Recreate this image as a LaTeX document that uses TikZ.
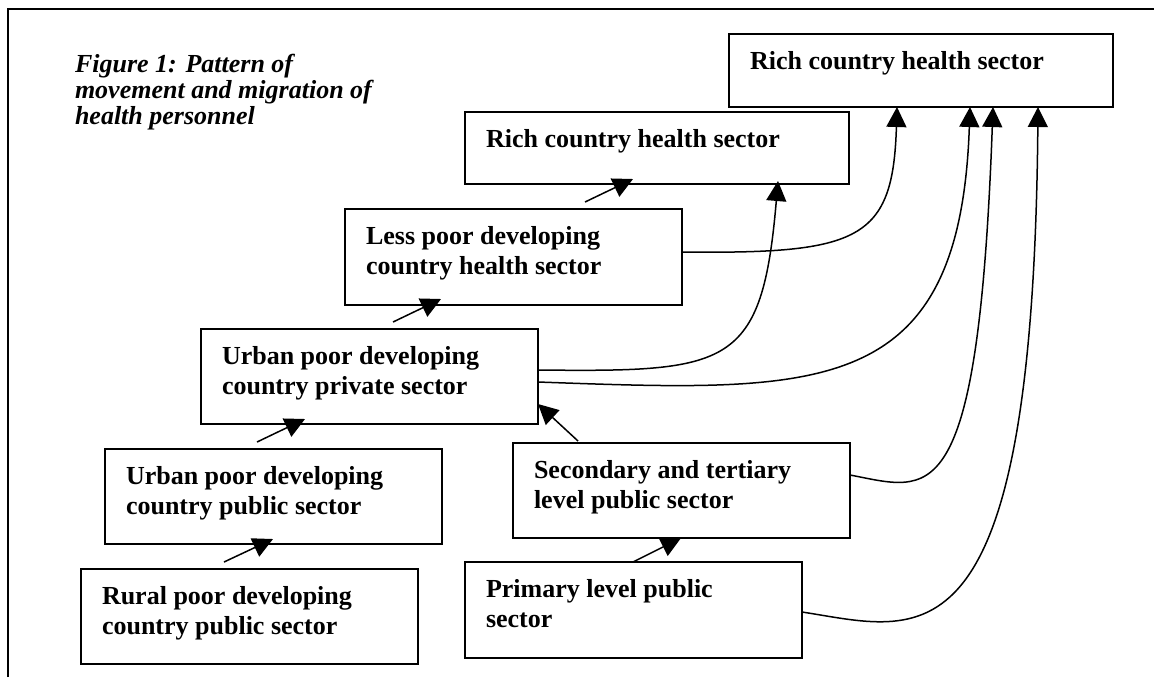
\documentclass[tikz,border=0pt]{standalone}
\usepackage{fontspec}
\setmainfont{Liberation Serif}
\usetikzlibrary{arrows.meta,calc}
\newcommand\bxt[3]{\parbox[c][#2][t]{#1}{\raggedright\rule{0pt}{17.5pt}#3}}
\begin{document}
\begin{tikzpicture}[x=0.5pt,y=-0.5pt,
  box/.style={draw, line width=0.75pt, fill=white, anchor=north west,
    inner xsep=10.5pt, inner ysep=0pt, outer sep=0pt, minimum size=0pt,
    font=\bfseries\fontsize{13}{15}\selectfont},
  link/.style={line width=0.75pt, -{Triangle[length=10pt,width=10pt]}},
  titletext/.style={anchor=north west, inner sep=0pt, outer sep=0pt,
    font=\bfseries\itshape\fontsize{13}{13}\selectfont}]
\useasboundingbox (0,0) rectangle (1154,677);
\fill[white] (0,0) rectangle (1154,677);
% frame
\draw[line width=0.9pt] (8,677) -- (8,9) -- (1154,9);
% title
\node[titletext] (title) at (75,52.5) {\parbox[t]{200pt}{\raggedright\rule{0pt}{10pt}Figure 1: Pattern of\\movement and migration of\\health personnel}};
% boxes
\node[box] (A)  at (729,34)  {\bxt{171pt}{36.5pt}{Rich country health sector}};
\node[box] (B2) at (465,112) {\bxt{171pt}{36pt}{Rich country health sector}};
\node[box] (B3) at (345,209) {\bxt{147.5pt}{48pt}{Less poor developing\\country health sector}};
\node[box] (B4) at (201,329) {\bxt{147.5pt}{47.5pt}{Urban poor developing\\country private sector}};
\node[box] (B5) at (105,449) {\bxt{147.5pt}{47.5pt}{Urban poor developing\\country public sector}};
\node[box] (B6) at (81,569)  {\bxt{147.5pt}{47.5pt}{Rural poor developing\\country public sector}};
\node[box] (B7) at (513,443) {\bxt{147.5pt}{47.5pt}{Secondary and tertiary\\level public sector}};
\node[box] (B8) at (465,562) {\bxt{147.5pt}{48pt}{Primary level public\\sector}};
% start points of short arrows
\coordinate (a0) at ($(B3.north west)+(240,-7)$);
\coordinate (b0) at ($(B4.north west)+(192,-7)$);
\coordinate (c0) at ($(B5.north west)+(152,-7)$);
\coordinate (d0) at ($(B6.north west)+(143,-7)$);
\coordinate (e0) at ($(B8.north west)+(168,0)$);
\coordinate (f0) at ($(B7.north west)+(65,-2)$);
% short arrows
\draw[link] (a0) -- ($(B2.south west)+(168,-5)$);
\draw[link] (b0) -- ($(B3.south west)+(96,-6)$);
\draw[link] (c0) -- ($(B4.south west)+(104,-5)$);
\draw[link] (d0) -- ($(B5.south west)+(168,-5)$);
\draw[link] (e0) -- ($(B7.south west)+(168,0)$);
\draw[link] (f0) -- ($(B4.south east)+(0,-20)$);
% curved arrows
\draw[link] ($(B3.east)+(0,-5)$) .. controls (860,254) and (893,240) .. ($(A.south west)+(168,0)$);
\draw[link] ($(B4.east)+(0,-6.5)$) .. controls (730,372) and (762,368) .. ($(B2.south west)+(313,-3)$);
\draw[link] ($(B4.east)+(0,5.5)$) .. controls (820,392) and (960,400) .. ($(A.south west)+(241,0)$);
\draw[link] ($(B7.east)+(0,-15.5)$) .. controls (930,490) and (978,520) .. ($(A.south west)+(264,0)$);
\draw[link] ($(B8.east)+(0,2)$) .. controls (920,630) and (1033,680) .. ($(A.south west)+(309,0)$);
\end{tikzpicture}
\end{document}
